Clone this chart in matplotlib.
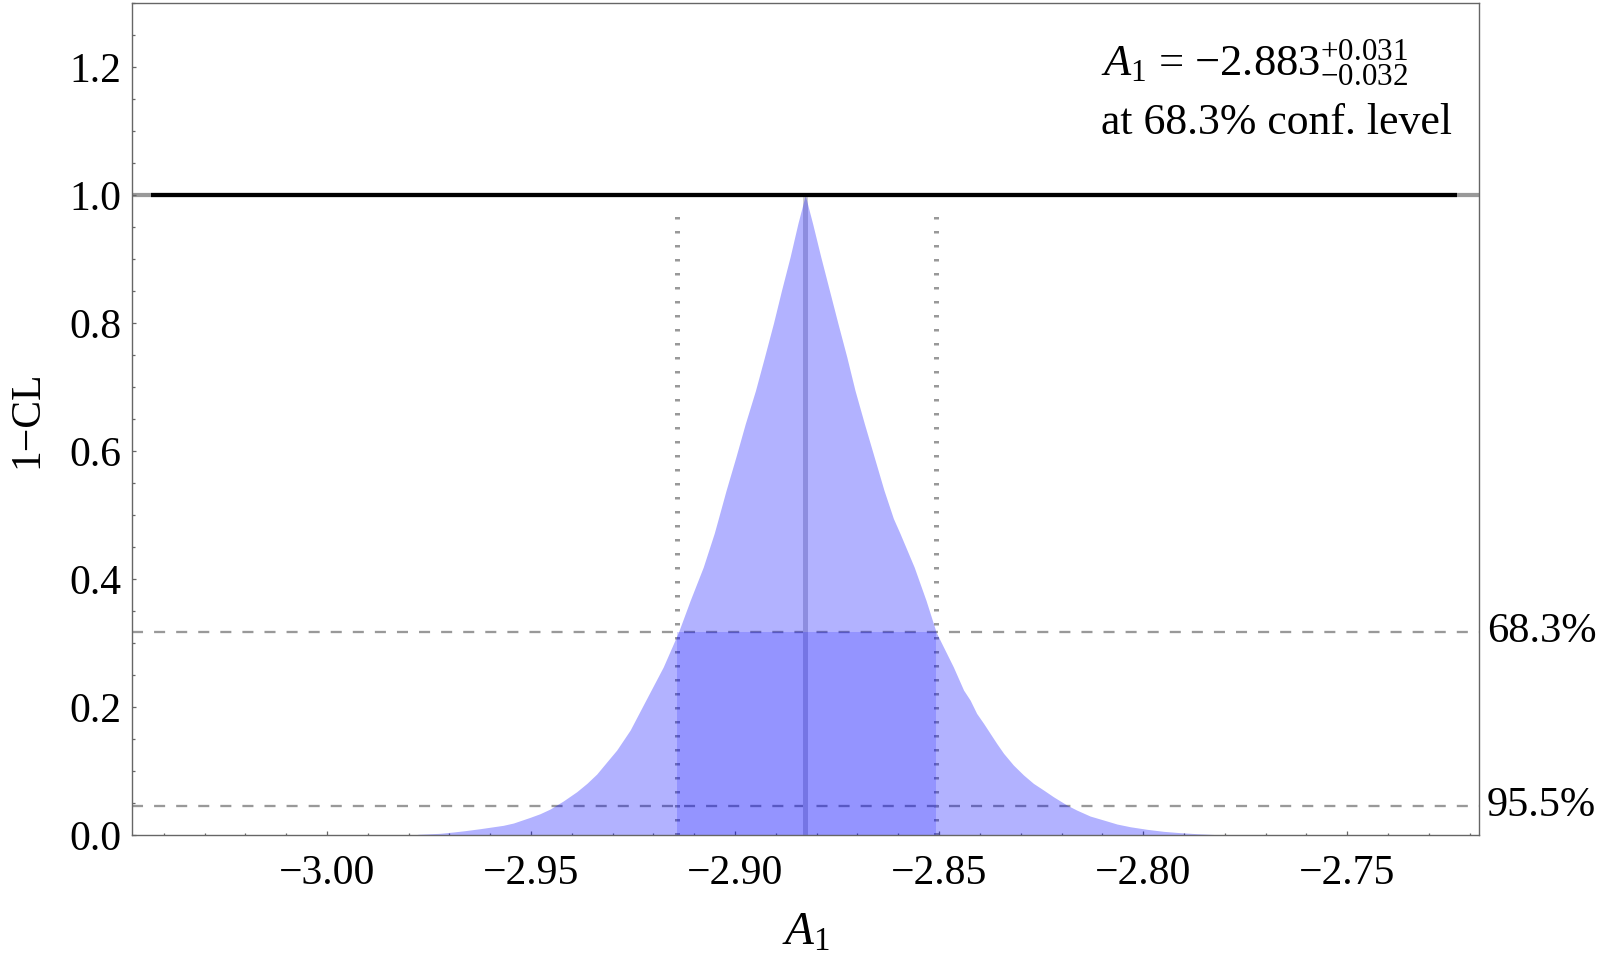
import numpy as np
import matplotlib
matplotlib.use("Agg")
import matplotlib.pyplot as plt
import matplotlib.transforms as mtransforms
from matplotlib.ticker import MultipleLocator, FuncFormatter

plt.rcParams['font.family'] = ['Liberation Serif', 'DejaVu Serif']
plt.rcParams['mathtext.fontset'] = 'custom'
plt.rcParams['mathtext.rm'] = 'Liberation Serif'
plt.rcParams['mathtext.it'] = 'Liberation Serif:italic'
plt.rcParams['mathtext.bf'] = 'Liberation Serif:bold'

# ---- data ----
curve_x = [-2.9790, -2.9776, -2.9723, -2.9690, -2.9662, -2.9625, -2.9596, -2.9568,
           -2.9543, -2.9502, -2.9478, -2.9453, -2.9421, -2.9388, -2.9363, -2.9339,
           -2.9314, -2.9290, -2.9257, -2.9225, -2.9176, -2.9139, -2.9110, -2.9078,
           -2.9051, -2.9041, -2.9022, -2.8998, -2.8975, -2.8950, -2.8928, -2.8906,
           -2.8886, -2.8865, -2.8846, -2.8828,
           -2.8810, -2.8790, -2.8769, -2.8748, -2.8726, -2.8706, -2.8683, -2.8659,
           -2.8635, -2.8612, -2.8596, -2.8561, -2.8532, -2.8507, -2.8465, -2.8440,
           -2.8424, -2.8408, -2.8391, -2.8375, -2.8359, -2.8342, -2.8318, -2.8293,
           -2.8269, -2.8244, -2.8220, -2.8187, -2.8163, -2.8130, -2.8097, -2.8064,
           -2.8032, -2.7991, -2.7950, -2.7909, -2.7868, -2.7815, -2.7805]
curve_y = [0.0, 0.0016, 0.0031, 0.0052, 0.0072, 0.0103, 0.0130, 0.0156,
           0.0192, 0.0281, 0.0337, 0.0411, 0.0536, 0.0681, 0.0812, 0.0957,
           0.1149, 0.1332, 0.1645, 0.2035, 0.263, 0.317, 0.367, 0.419,
           0.472, 0.495, 0.539, 0.591, 0.643, 0.695, 0.747, 0.800,
           0.852, 0.904, 0.956, 1.000,
           0.956, 0.904, 0.852, 0.800, 0.747, 0.695, 0.643, 0.591,
           0.539, 0.495, 0.472, 0.419, 0.367, 0.317, 0.263, 0.2269,
           0.2113, 0.1905, 0.1749, 0.1593, 0.1437, 0.1281, 0.1098, 0.0942,
           0.0812, 0.0707, 0.0603, 0.0473, 0.0395, 0.0301, 0.0239, 0.0176,
           0.0134, 0.0094, 0.0062, 0.0041, 0.0025, 0.0009, 0.0]

best_fit = -2.8828
interval_lo = -2.9142
interval_hi = -2.8507
cl_levels = [0.3173, 0.0455]
cl_labels = ['68.3%', '95.5%']
top_line_range = [-3.043, -2.723]
top_line_value = 1.0

x_limits = (-3.0477, -2.7177)
y_limits = (0.0, 1.3)
x_major = 0.05
x_minor = 0.01
y_major = 0.2
y_minor = 0.05

annot_line1 = r'$A_1$ = $-$2.883$^{+0.031}_{-0.032}$'
annot_line2 = 'at 68.3% conf. level'
xlabel_text = r'$A_1$'
ylabel_text = '1\u2212CL'

# ---- figure ----
W, H = 1600, 964
fig = plt.figure(figsize=(W / 100, H / 100), dpi=100)
ax = fig.add_axes([132.3 / W, 1 - 835.3 / H, (1479 - 132.3) / W, (835.3 - 3.3) / H])

ax.set_xlim(*x_limits)
ax.set_ylim(*y_limits)

gray = '#999999'
px = 0.72  # points per pixel

# gridline at 1 (full width) and black line
ax.axhline(top_line_value, color=gray, lw=4.2 * px, zorder=1)
ax.plot(top_line_range, [top_line_value, top_line_value], color='black', lw=4.2 * px,
        solid_capstyle='butt', zorder=6)

# dashed CL lines
for lv in cl_levels:
    ax.axhline(lv, color=gray, lw=2.3 * px, dashes=(4.8, 4.8), zorder=1)

# dotted interval bounds
for xv in (interval_lo, interval_hi):
    ax.plot([xv, xv], [0, 0.985], color=gray, lw=5 * px, dashes=(0.5, 2.3),
            solid_capstyle='butt', dash_capstyle='butt', zorder=1)

# center line
ax.plot([best_fit, best_fit], [0, 1.0], color='#CBCBD2', lw=5 * px,
        solid_capstyle='butt', zorder=1)

# fills
ax.fill_between(curve_x, 0, curve_y, color='blue', alpha=0.3, lw=0, zorder=3)
ax.fill_between([interval_lo, interval_hi], 0, cl_levels[0], color='blue', alpha=0.168,
                lw=0, zorder=4)

# spines and ticks
for s in ax.spines.values():
    s.set_color('#666666')
    s.set_linewidth(1.0)
    s.set_zorder(7)

ax.xaxis.set_major_locator(MultipleLocator(x_major))
ax.xaxis.set_minor_locator(MultipleLocator(x_minor))
ax.yaxis.set_major_locator(MultipleLocator(y_major))
ax.yaxis.set_minor_locator(MultipleLocator(y_minor))
ax.xaxis.set_major_formatter(FuncFormatter(lambda v, p: ('%.2f' % v).replace('-', '\u2212')))
ax.yaxis.set_major_formatter(FuncFormatter(lambda v, p: ('%.1f' % v).replace('-', '\u2212')))
ax.tick_params(which='both', direction='in', color='#666666', width=0.9,
               top=False, right=False, labelsize=30)
ax.tick_params(which='major', length=3.2)
ax.tick_params(which='minor', length=1.8)
ax.tick_params(axis='x', which='major', pad=14)
ax.tick_params(axis='y', which='major', pad=8)

ax.set_xlabel(xlabel_text, fontsize=34, labelpad=14)
ax.set_ylabel(ylabel_text, fontsize=30, labelpad=16)

# right-side CL labels
trans = mtransforms.blended_transform_factory(ax.transAxes, ax.transData)
for lv, lab in zip(cl_levels, cl_labels):
    ax.text(1.006, lv, lab, transform=trans, ha='left', va='center', fontsize=30.5,
            clip_on=False)

# annotation
ax.text(0.7193, 1.186, annot_line1, transform=trans, ha='left', va='baseline', fontsize=32)
ax.text(0.7193, 1.0953, annot_line2, transform=trans, ha='left', va='baseline', fontsize=31.5)

fig.savefig('out.png', dpi=100)
